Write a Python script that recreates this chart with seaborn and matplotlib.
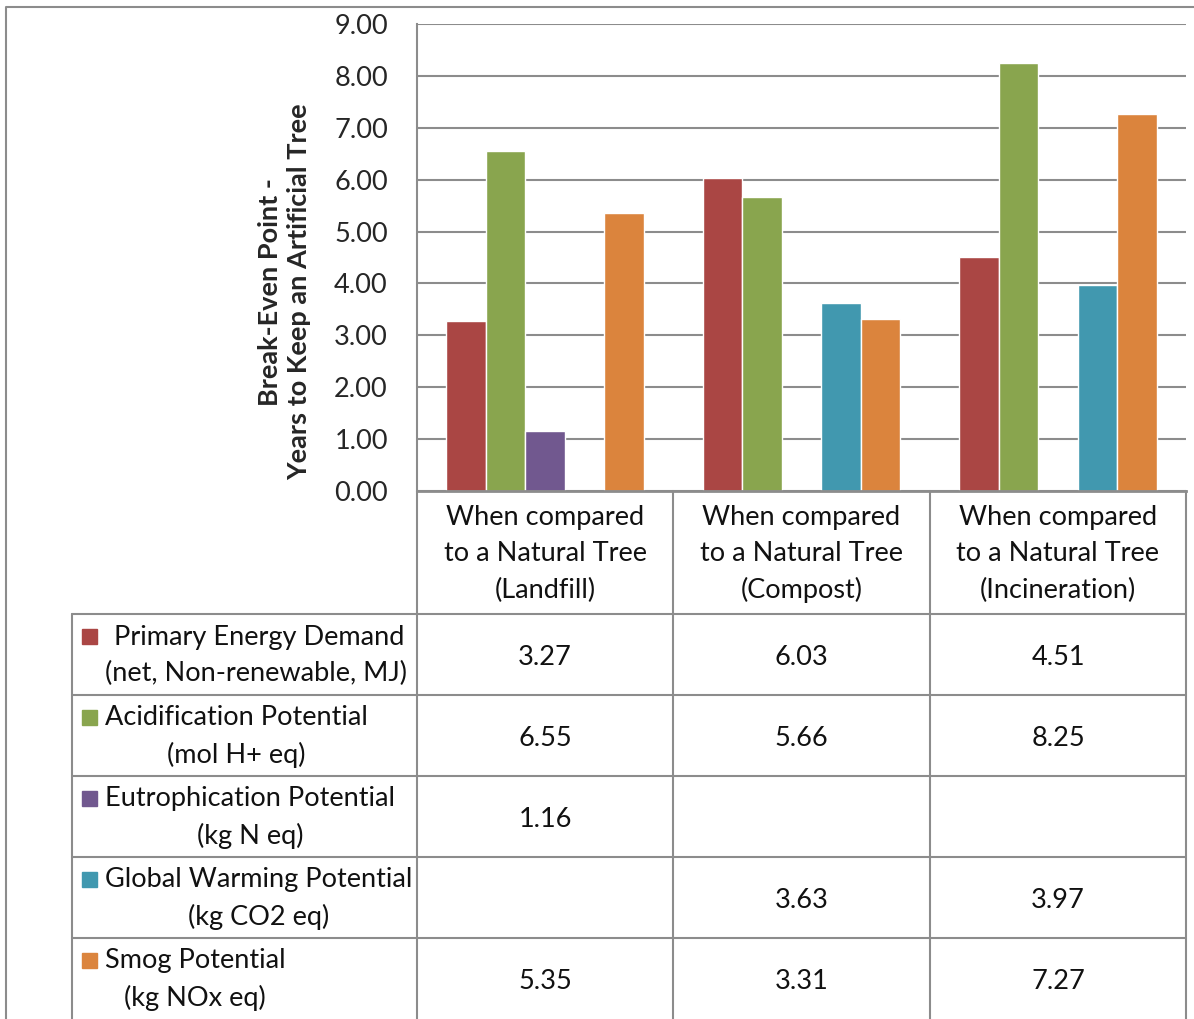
import numpy as np
import pandas as pd
import seaborn as sns
import matplotlib.pyplot as plt
from matplotlib.patches import Rectangle

# data
scenarios = ["When compared\nto a Natural Tree\n(Landfill)",
             "When compared\nto a Natural Tree\n(Compost)",
             "When compared\nto a Natural Tree\n(Incineration)"]
impacts = ["Primary Energy Demand\n(net, Non-renewable, MJ)",
           "Acidification Potential\n(mol H+ eq)",
           "Eutrophication Potential\n(kg N eq)",
           "Global Warming Potential\n(kg CO2 eq)",
           "Smog Potential\n(kg NOx eq)"]
primary_energy = [3.27, 6.03, 4.51]
acidification = [6.55, 5.66, 8.25]
eutrophication = [1.16, np.nan, np.nan]
global_warming = [np.nan, 3.63, 3.97]
smog = [5.35, 3.31, 7.27]
yticks = [0, 1, 2, 3, 4, 5, 6, 7, 8, 9]
colors = ["#AA4644", "#89A54E", "#71588F", "#4198AF", "#DB843D"]

series = [primary_energy, acidification, eutrophication, global_warming, smog]
rows = []
for imp, vals in zip(impacts, series):
    for sc, v in zip(scenarios, vals):
        rows.append({"scenario": sc, "impact": imp, "years": v})
df = pd.DataFrame(rows)

sns.set_style("white")
plt.rcParams['font.family'] = ['Lato', 'DejaVu Sans']

W, H = 1194, 1019
fig = plt.figure(figsize=(W / 100, H / 100), dpi=100)

# overlay in pixel coords for the data table and frame
ov = fig.add_axes([0, 0, 1, 1])
ov.set_xlim(0, W)
ov.set_ylim(H, 0)
ov.axis("off")
ov.patch.set_alpha(0)

grey = "#8c8c8c"
lw = 1.5
# outer frame
ov.plot([6, 6, W], [H, 7, 7], color=grey, lw=lw)

col_x = [417, 673, 930, 1186]
row_y = [614, 695, 776, 857, 938, 1019]
for x in col_x:
    ov.plot([x, x], [491, H], color=grey, lw=lw)
ov.plot([72, 72], [614, H], color=grey, lw=lw)
for y in row_y[:-1]:
    ov.plot([72, 1186], [y, y], color=grey, lw=lw)

fs = 19.5
ls = 1.55
for i, sc in enumerate(scenarios):
    cx = (col_x[i] + col_x[i + 1]) / 2
    ov.text(cx, 554, sc, ha="center", va="center", fontsize=fs,
            linespacing=ls, color="#111111")

for r, (imp, vals) in enumerate(zip(impacts, series)):
    cy = (row_y[r] + row_y[r + 1]) / 2
    label = (" " + imp) if r == 0 else imp
    ov.text(105, cy + 1, label, ha="left", va="center", fontsize=fs,
            multialignment="center", linespacing=ls, color="#111111")
    ov.add_patch(Rectangle((82, cy - 26), 15, 15, color=colors[r]))
    for i, v in enumerate(vals):
        if not np.isnan(v):
            cx = (col_x[i] + col_x[i + 1]) / 2
            ov.text(cx, cy + 3, f"{v:.2f}", ha="center", va="center",
                    fontsize=fs, color="#111111")

# main chart
ax = fig.add_axes([417 / W, 1 - 491 / H, 769 / W, 467 / H])
sns.barplot(data=df, x="scenario", y="years", hue="impact",
            order=scenarios, hue_order=impacts, palette=colors,
            width=0.77, ax=ax, legend=False, saturation=1)
ax.set_ylim(0, 9)
ax.set_yticks(yticks)
ax.set_yticklabels([f"{t:.2f}" for t in yticks], fontsize=fs)
ax.set_xticks([])
ax.set_xlabel("")
ax.set_ylabel("Break-Even Point -\nYears to Keep an Artificial Tree",
              fontsize=19.5, fontweight="bold", linespacing=1.25)
ax.yaxis.set_label_coords(-0.138, 0.426)
ax.yaxis.grid(True, color=grey, lw=lw)
ax.set_axisbelow(True)
ax.tick_params(axis="y", length=0, pad=21)
for s in ["top", "right"]:
    ax.spines[s].set_visible(False)
ax.spines["left"].set_color(grey)
ax.spines["left"].set_linewidth(lw)
ax.spines["bottom"].set_color(grey)
ax.spines["bottom"].set_linewidth(2)
ax.patch.set_alpha(0)

fig.savefig("out.png", dpi=100)
